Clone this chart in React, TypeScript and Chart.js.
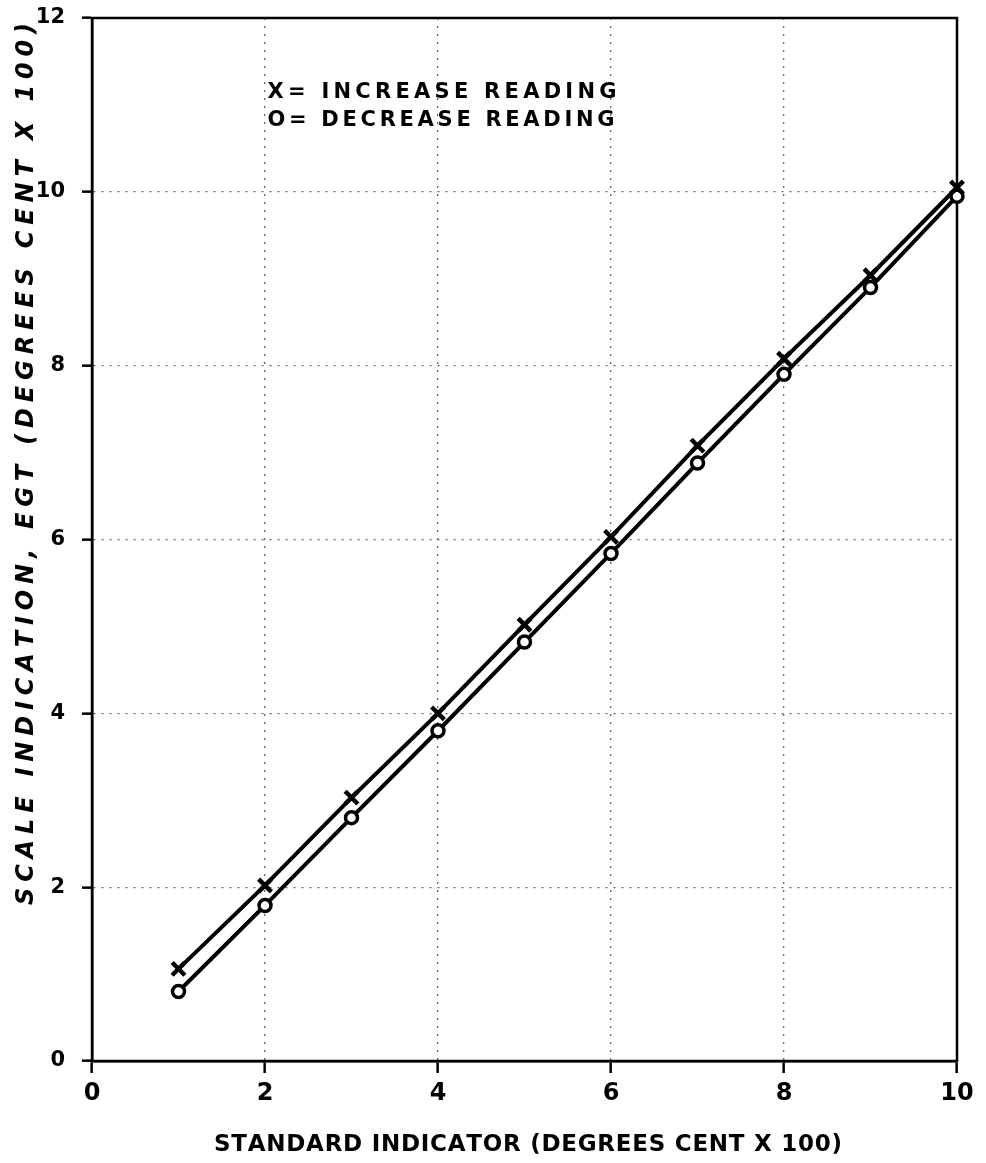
import React, { useEffect, useRef } from "react";
import { Chart, registerables } from "chart.js";

Chart.register(...registerables);

const standardIndicator = [1, 2, 3, 4, 5, 6, 7, 8, 9, 10];
const increaseReading = [1.06, 2.02, 3.03, 4.0, 5.02, 6.03, 7.08, 8.08, 9.04, 10.05];
const decreaseReading = [0.8, 1.79, 2.8, 3.8, 4.82, 5.84, 6.88, 7.9, 8.9, 9.95];
const xTicks = [0, 2, 4, 6, 8, 10];
const yTicks = [0, 2, 4, 6, 8, 10, 12];
const legendLines = ["X= INCREASE READING", "O= DECREASE READING"];
const xTitle = "STANDARD INDICATOR (DEGREES CENT X 100)";
const yTitle = "SCALE INDICATION, EGT (DEGREES CENT X 100)";

const FAMILY = "'DejaVu Sans', 'Liberation Sans', sans-serif";

function drawSpaced(ctx: CanvasRenderingContext2D, text: string, cx: number, cy: number, targetW: number) {
  const chars = Array.from(text);
  const widths = chars.map((c) => ctx.measureText(c).width);
  const total = widths.reduce((a, b) => a + b, 0);
  const ls = chars.length > 1 ? (targetW - total) / (chars.length - 1) : 0;
  let x = cx - targetW / 2;
  ctx.textAlign = "left";
  ctx.textBaseline = "middle";
  chars.forEach((c, i) => {
    ctx.fillText(c, x, cy);
    x += widths[i] + ls;
  });
}

const textPlugin = {
  id: "textPlugin",
  beforeDatasetsDraw(chart: any) {
    const { ctx, chartArea } = chart;
    ctx.save();
    ctx.setLineDash([]);
    ctx.strokeStyle = "#000";
    ctx.lineWidth = 2.5;
    ctx.strokeRect(chartArea.left, chartArea.top, chartArea.right - chartArea.left, chartArea.bottom - chartArea.top);
    ctx.restore();
  },
  afterDraw(chart: any) {
    const { ctx, chartArea } = chart;
    ctx.save();
    ctx.fillStyle = "#000";
    ctx.font = `bold 21px ${FAMILY}`;
    drawSpaced(ctx, legendLines[0], 442, 93, 349);
    drawSpaced(ctx, legendLines[1], 441, 121, 347);
    ctx.font = `bold 23px ${FAMILY}`;
    drawSpaced(ctx, xTitle, 528, chartArea.bottom + 84, 628);
    ctx.save();
    ctx.translate(27, 464);
    ctx.rotate(-Math.PI / 2);
    ctx.font = `italic bold 24px ${FAMILY}`;
    drawSpaced(ctx, yTitle, 0, 0, 882);
    ctx.restore();
    ctx.restore();
  },
};

export default function App() {
  const ref = useRef<HTMLCanvasElement | null>(null);
  useEffect(() => {
    if (!ref.current) return;
    const gridCommon = {
      color: "#666",
      lineWidth: 1.3,
      tickColor: "#000",
      tickWidth: 2.5,
      tickBorderDash: [],
    };
    const chart = new Chart(ref.current, {
      type: "line",
      data: {
        datasets: [
          {
            label: "Increase reading",
            data: standardIndicator.map((x, i) => ({ x, y: increaseReading[i] })),
            borderColor: "#000",
            backgroundColor: "#000",
            borderWidth: 4,
            pointStyle: "crossRot",
            pointRadius: 9,
            pointBorderWidth: 4.5,
            pointBorderColor: "#000",
            tension: 0,
            clip: false as any,
          },
          {
            label: "Decrease reading",
            data: standardIndicator.map((x, i) => ({ x, y: decreaseReading[i] })),
            borderColor: "#000",
            backgroundColor: "#fff",
            borderWidth: 4,
            pointStyle: "circle",
            pointRadius: 6,
            pointBorderWidth: 3.5,
            pointBorderColor: "#000",
            pointBackgroundColor: "#fff",
            tension: 0,
            clip: false as any,
          },
        ],
      },
      options: {
        animation: false,
        responsive: true,
        maintainAspectRatio: false,
        layout: { padding: { left: 0, right: 29, top: 18, bottom: 0 } },
        plugins: { legend: { display: false }, tooltip: { enabled: false } },
        scales: {
          x: {
            type: "linear",
            min: 0,
            max: 10,
            afterFit: (s: any) => {
              s.height = 102;
              s.paddingLeft = 0;
              s.paddingRight = 0;
            },
            afterBuildTicks: (s: any) => {
              s.ticks = xTicks.map((v) => ({ value: v }));
            },
            ticks: {
              color: "#000",
              padding: 6,
              font: { family: FAMILY, size: 24, weight: "bold" },
              maxRotation: 0,
            },
            grid: { ...gridCommon, tickLength: 12 },
            border: { display: true, color: "#000", width: 2.5, dash: [2, 6] },
          },
          y: {
            type: "linear",
            min: 0,
            max: 12,
            afterFit: (s: any) => {
              s.width = 92;
              s.paddingTop = 0;
              s.paddingBottom = 0;
            },
            afterBuildTicks: (s: any) => {
              s.ticks = yTicks.map((v) => ({ value: v }));
            },
            ticks: {
              color: "#000",
              padding: 17,
              font: { family: FAMILY, size: 21, weight: "bold" },
            },
            grid: { ...gridCommon, tickLength: 10 },
            border: { display: true, color: "#000", width: 2.5, dash: [2, 6] },
          },
        },
      } as any,
      plugins: [textPlugin],
    });
    return () => chart.destroy();
  }, []);
  return (
    <div style={{ position: "fixed", left: 0, top: 0, width: 986, height: 1163, background: "#fff" }}>
      <canvas ref={ref} />
    </div>
  );
}
